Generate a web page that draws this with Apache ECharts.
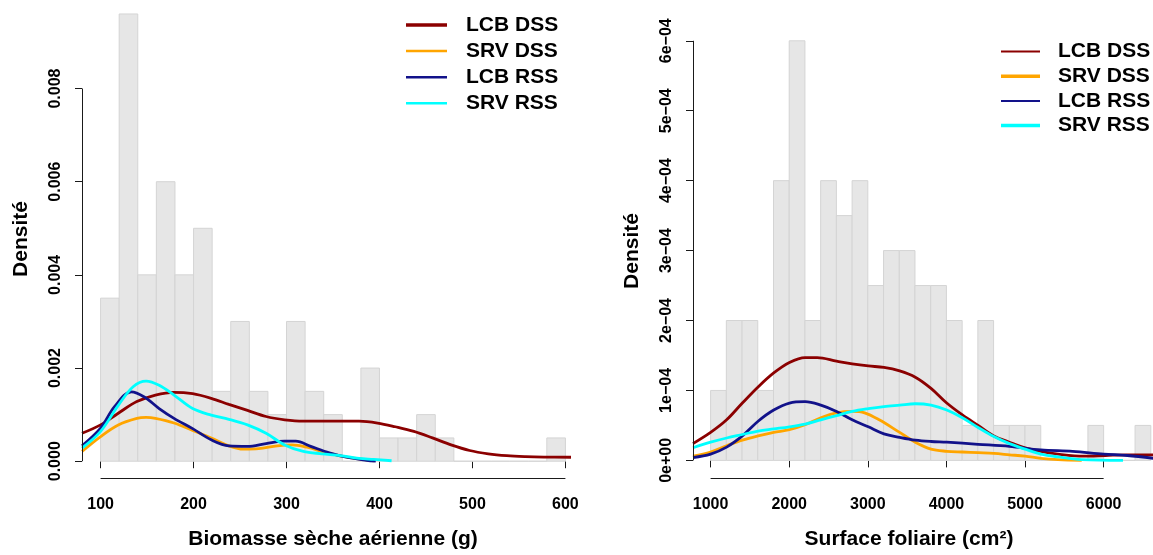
<!DOCTYPE html>
<html>
<head>
<meta charset="utf-8">
<script src="https://cdn.jsdelivr.net/npm/echarts@6/dist/echarts.min.js"></script>
<style>html,body{margin:0;padding:0;background:#fff}#c{width:1153px;height:555px}</style>
</head>
<body>
<div id="c"></div>
<script>
// ---------- DATA ----------
const seriesNames = ['LCB DSS', 'SRV DSS', 'LCB RSS', 'SRV RSS'];

// Left panel: Biomasse sèche aérienne (g)
const bioBreaks = [100,120,140,160,180,200,220,240,260,280,300,320,340,360,380,400,420,440,460,480,500,520,540,560,580,600];
const bioDensity = [0.0035,0.0096,0.004,0.006,0.004,0.005,0.0015,0.003,0.0015,0.001,0.003,0.0015,0.001,0,0.002,0.0005,0.0005,0.001,0.0005,0,0,0,0,0,0.0005];
const bioXTicks = [100,200,300,400,500,600];
const bioYTicks = [0,0.002,0.004,0.006,0.008];
const bioLcbDss = [[80,0.0006],[100,0.00078],[119,0.00103],[139,0.00128],[159,0.00142],[179,0.00148],[199,0.00145],[219,0.00135],[238,0.00122],[258,0.00109],[278,0.00096],[298,0.00089],[318,0.00086],[338,0.00086],[358,0.00086],[378,0.00086],[398,0.00082],[417,0.00074],[437,0.00064],[457,0.0005],[477,0.00035],[497,0.00023],[517,0.00016],[537,0.00012],[557,0.0001],[577,0.00009],[606,0.000085]];
const bioSrvDss = [[80,0.00021],[100,0.00053],[119,0.00078],[139,0.00092],[149,0.00094],[159,0.00092],[179,0.00082],[199,0.00066],[219,0.0005],[238,0.00033],[254,0.00026],[270,0.00027],[290,0.00033],[306,0.00035],[322,0.0003],[342,0.00019],[362,0.0001],[382,0.00004],[394,0.00001]];
const bioLcbRss = [[80,0.00033],[100,0.00071],[115,0.00117],[133,0.00149],[147,0.00138],[163,0.00113],[179,0.00092],[199,0.0007],[219,0.00046],[238,0.00033],[258,0.00032],[278,0.00038],[298,0.00043],[310,0.00043],[326,0.00032],[346,0.00018],[366,0.00008],[386,0.00002],[396,0]];
const bioSrvRss = [[80,0.00028],[100,0.00064],[119,0.0012],[135,0.0016],[149,0.00172],[163,0.00163],[179,0.00142],[199,0.00113],[219,0.00099],[238,0.0009],[258,0.00078],[278,0.0006],[298,0.00035],[318,0.00021],[338,0.00016],[358,0.00012],[378,0.00006],[394,0.00004],[413,0.00001]];

// Right panel: Surface foliaire (cm²)
const surfBreaks = [1000,1200,1400,1600,1800,2000,2200,2400,2600,2800,3000,3200,3400,3600,3800,4000,4200,4400,4600,4800,5000,5200,5400,5600,5800,6000,6200,6400,6600];
const surfDensity = [1e-4,2e-4,2e-4,1e-4,4e-4,6e-4,2e-4,4e-4,3.5e-4,4e-4,2.5e-4,3e-4,3e-4,2.5e-4,2.5e-4,2e-4,0.5e-4,2e-4,0.5e-4,0.5e-4,0.5e-4,0,0,0,0.5e-4,0,0,0.5e-4];
const surfXTicks = [1000,2000,3000,4000,5000,6000];
const surfYTicks = [0,1e-4,2e-4,3e-4,4e-4,5e-4,6e-4];
const surfLcbDss = [[776,0.24e-4],[1000,0.4e-4],[1204,0.58e-4],[1404,0.82e-4],[1604,1.05e-4],[1803,1.25e-4],[2003,1.4e-4],[2202,1.47e-4],[2356,1.47e-4],[2602,1.42e-4],[2801,1.38e-4],[3006,1.35e-4],[3205,1.33e-4],[3405,1.28e-4],[3604,1.19e-4],[3804,1.03e-4],[4004,0.82e-4],[4203,0.65e-4],[4403,0.5e-4],[4603,0.35e-4],[4802,0.26e-4],[5002,0.18e-4],[5201,0.13e-4],[5420,0.09e-4],[5745,0.06e-4],[6023,0.07e-4],[6302,0.08e-4],[6630,0.08e-4]];
const surfSrvDss = [[776,0.06e-4],[1000,0.12e-4],[1204,0.21e-4],[1404,0.29e-4],[1604,0.35e-4],[1803,0.4e-4],[2003,0.44e-4],[2202,0.51e-4],[2402,0.61e-4],[2602,0.68e-4],[2801,0.7e-4],[2959,0.68e-4],[3145,0.58e-4],[3405,0.4e-4],[3604,0.26e-4],[3804,0.16e-4],[4004,0.13e-4],[4203,0.12e-4],[4403,0.11e-4],[4603,0.1e-4],[4802,0.08e-4],[5002,0.06e-4],[5201,0.03e-4],[5420,0.01e-4],[5721,0]];
const surfLcbRss = [[776,0.04e-4],[1000,0.09e-4],[1204,0.19e-4],[1404,0.35e-4],[1604,0.56e-4],[1803,0.72e-4],[2003,0.82e-4],[2202,0.84e-4],[2402,0.79e-4],[2602,0.7e-4],[2801,0.58e-4],[3006,0.48e-4],[3205,0.38e-4],[3405,0.33e-4],[3604,0.29e-4],[3804,0.27e-4],[4004,0.26e-4],[4403,0.23e-4],[4802,0.2e-4],[5201,0.15e-4],[5605,0.13e-4],[6000,0.09e-4],[6302,0.07e-4],[6630,0.03e-4]];
const surfSrvRss = [[776,0.18e-4],[1000,0.26e-4],[1204,0.32e-4],[1404,0.37e-4],[1604,0.42e-4],[1803,0.45e-4],[2003,0.48e-4],[2202,0.52e-4],[2402,0.58e-4],[2602,0.64e-4],[2801,0.7e-4],[3006,0.74e-4],[3205,0.77e-4],[3405,0.79e-4],[3604,0.81e-4],[3804,0.79e-4],[4004,0.72e-4],[4203,0.61e-4],[4403,0.47e-4],[4603,0.34e-4],[4802,0.24e-4],[5002,0.16e-4],[5201,0.09e-4],[5420,0.05e-4],[5721,0.01e-4],[6246,0]];

// ---------- STYLE ----------
const FONT = '"Liberation Sans", Arial, Helvetica, sans-serif';
const colors = ['#8b0000', '#ffa500', '#12128a', '#00ffff'];
const axisColor = '#1a1a1a';

function histData(breaks, dens) {
  return dens.map((d, i) => [breaks[i], breaks[i + 1], d]);
}
function renderHist(params, api) {
  const p0 = api.coord([api.value(0), api.value(2)]);
  const p1 = api.coord([api.value(1), 0]);
  return {
    type: 'rect',
    shape: { x: p0[0], y: p0[1], width: p1[0] - p0[0], height: p1[1] - p0[1] },
    style: { fill: '#e6e6e6', stroke: '#d4d4d4', lineWidth: 1 }
  };
}
function rExp(v) {
  if (v === 0) return '0e+00';
  const e = Math.floor(Math.log10(Math.abs(v)) + 1e-9);
  const m = Math.round(v / Math.pow(10, e));
  const sign = e < 0 ? '\u2212' : '+';
  return m + 'e' + sign + String(Math.abs(e)).padStart(2, '0');
}

const bio = { xmin: 80, xmax: 620, ymin: -0.00036, ymax: 0.0099 };
const surf = { xmin: 776, xmax: 6628, ymin: -0.0000252, ymax: 0.000624 };

function xAxisCfg(gi, rng, ticks, name, namePad) {
  return {
    gridIndex: gi, type: 'value', min: rng.xmin, max: rng.xmax,
    axisLine: { show: false }, splitLine: { show: false },
    axisTick: { show: true, customValues: ticks, length: 7, lineStyle: { color: axisColor, width: 1 } },
    axisLabel: { customValues: ticks, margin: 19, fontSize: 16, fontWeight: 'bold', color: '#000', fontFamily: FONT, formatter: v => String(v) },
    name: name, nameLocation: 'middle', nameGap: 51,
    nameTextStyle: { fontSize: 21, fontWeight: 'bold', color: '#000', fontFamily: FONT, padding: namePad }
  };
}
function yAxisCfg(gi, rng, ticks, fmt) {
  return {
    gridIndex: gi, type: 'value', min: rng.ymin, max: rng.ymax,
    axisLine: { show: false }, splitLine: { show: false },
    axisTick: { show: true, customValues: ticks, length: 7, lineStyle: { color: axisColor, width: 1 } },
    axisLabel: { customValues: ticks, rotate: 90, margin: 18, fontSize: 16, fontWeight: 'bold', color: '#000', fontFamily: FONT, formatter: fmt },
    name: 'Densité', nameLocation: 'middle', nameGap: 50,
    nameTextStyle: { fontSize: 21, fontWeight: 'bold', color: '#000', fontFamily: FONT }
  };
}
function axisLines(rng, xt, yt) {
  return {
    symbol: ['none', 'none'], silent: true, animation: false,
    label: { show: false }, emphasis: { disabled: true },
    lineStyle: { color: axisColor, width: 1, type: 'solid' },
    data: [
      [{ coord: [rng.xmin, yt[0]] }, { coord: [rng.xmin, yt[yt.length - 1]] }],
      [{ coord: [xt[0], rng.ymin] }, { coord: [xt[xt.length - 1], rng.ymin] }]
    ]
  };
}
function curve(name, data, gi, color, withAxes) {
  const s = {
    type: 'line', name: name, data: data, xAxisIndex: gi, yAxisIndex: gi,
    smooth: 0.35, symbol: 'none', showSymbol: false, clip: false,
    lineStyle: { color: color, width: 2.8 }, itemStyle: { color: color },
    emphasis: { disabled: true }, z: 3
  };
  if (withAxes) s.markLine = withAxes;
  return s;
}
function legendCfg(left, top, widths, iconW, textPad, gap) {
  return {
    orient: 'vertical', left: left, top: top, itemWidth: iconW, itemHeight: 20, itemGap: gap,
    selectedMode: false, symbolKeepAspect: true,
    textStyle: { fontSize: 21, fontWeight: 'bold', color: '#000', fontFamily: FONT, lineHeight: 20, padding: [0, 0, 0, textPad] },
    data: seriesNames.map((n, i) => ({
      name: n,
      icon: 'path://M0,0H' + iconW + 'V' + widths[i] + 'H0Z',
      itemStyle: { color: colors[i] }
    }))
  };
}

const chart = echarts.init(document.getElementById('c'), null, { renderer: 'canvas' });
chart.setOption({
  animation: false,
  backgroundColor: '#fff',
  grid: [
    { left: 82, top: 0, width: 502, height: 482 },
    { left: 693, top: 24, width: 460, height: 463 }
  ],
  xAxis: [
    xAxisCfg(0, bio, bioXTicks, 'Biomasse sèche aérienne (g)', [0, 0, 0, 0]),
    xAxisCfg(1, surf, surfXTicks, 'Surface foliaire (cm²)', [0, 28, 0, 0])
  ],
  yAxis: [
    yAxisCfg(0, bio, bioYTicks, v => v.toFixed(3)),
    yAxisCfg(1, surf, surfYTicks, v => rExp(v))
  ],
  legend: [
    legendCfg(401, 9.5, [3.5, 2.5, 2.5, 2.5], 41, 14, 5.1),
    legendCfg(996, 36, [2, 3.5, 2, 3.5], 39, 13, 3.7)
  ],
  series: [
    { type: 'custom', name: 'hist1', xAxisIndex: 0, yAxisIndex: 0, data: histData(bioBreaks, bioDensity),
      encode: { x: [0, 1], y: 2 }, renderItem: renderHist, silent: true, z: 1 },
    { type: 'custom', name: 'hist2', xAxisIndex: 1, yAxisIndex: 1, data: histData(surfBreaks, surfDensity),
      encode: { x: [0, 1], y: 2 }, renderItem: renderHist, silent: true, z: 1 },
    curve(seriesNames[0], bioLcbDss, 0, colors[0], axisLines(bio, bioXTicks, bioYTicks)),
    curve(seriesNames[1], bioSrvDss, 0, colors[1]),
    curve(seriesNames[2], bioLcbRss, 0, colors[2]),
    curve(seriesNames[3], bioSrvRss, 0, colors[3]),
    curve(seriesNames[0], surfLcbDss, 1, colors[0], axisLines(surf, surfXTicks, surfYTicks)),
    curve(seriesNames[1], surfSrvDss, 1, colors[1]),
    curve(seriesNames[2], surfLcbRss, 1, colors[2]),
    curve(seriesNames[3], surfSrvRss, 1, colors[3])
  ]
});
</script>
</body>
</html>
